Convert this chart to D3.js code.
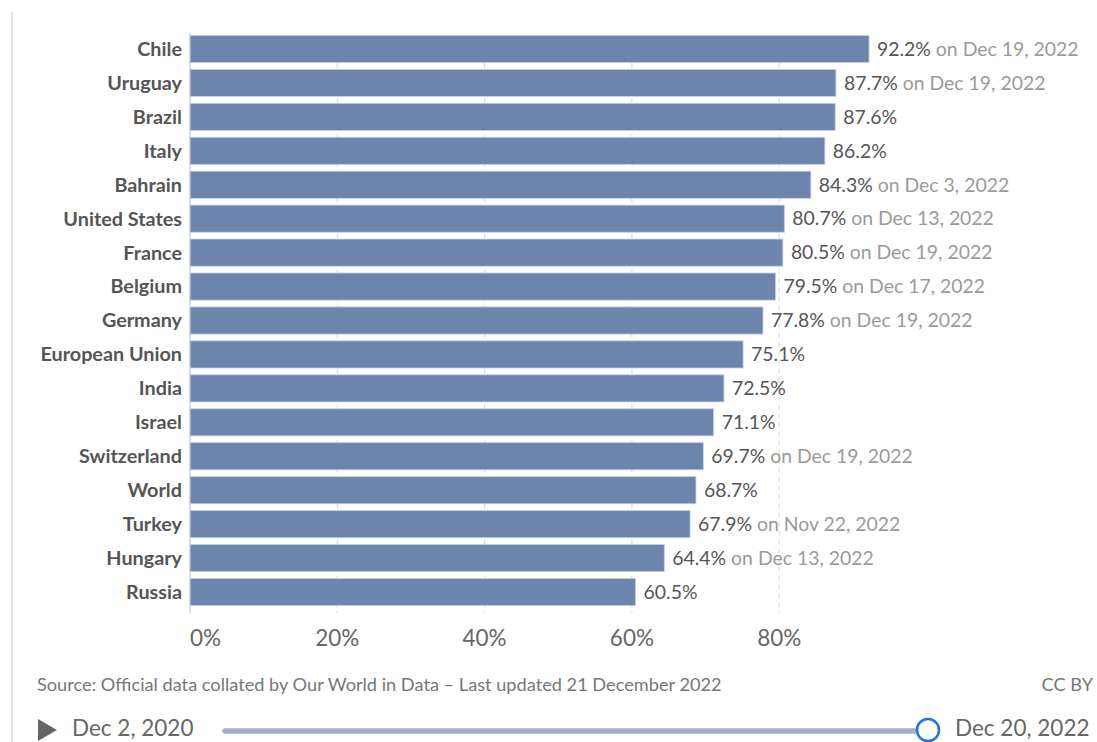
<!DOCTYPE html>
<html>
<head>
<meta charset="utf-8">
<script src="https://cdn.jsdelivr.net/npm/d3@7"></script>
<style>
  html, body { margin: 0; padding: 0; background: #fff; }
  svg { display: block; font-family: Lato, "Noto Sans", sans-serif; }
</style>
</head>
<body>
<svg id="chart" width="1097" height="742"></svg>
<script>
// Share of people who received at least one dose of a COVID-19 vaccine
const countries = ["Chile", "Uruguay", "Brazil", "Italy", "Bahrain", "United States", "France",
  "Belgium", "Germany", "European Union", "India", "Israel", "Switzerland", "World",
  "Turkey", "Hungary", "Russia"];
const shares = [92.2, 87.7, 87.6, 86.2, 84.3, 80.7, 80.5, 79.5, 77.8, 75.1, 72.5, 71.1, 69.7,
  68.7, 67.9, 64.4, 60.5];
const dates = ["Dec 19, 2022", "Dec 19, 2022", "", "", "Dec 3, 2022", "Dec 13, 2022",
  "Dec 19, 2022", "Dec 17, 2022", "Dec 19, 2022", "", "", "", "Dec 19, 2022", "",
  "Nov 22, 2022", "Dec 13, 2022", ""];
const xTicks = [0, 20, 40, 60, 80];
const sourceNote = "Source: Official data collated by Our World in Data \u2013 Last updated 21 December 2022";
const license = "CC BY";
const timeRange = ["Dec 2, 2020", "Dec 20, 2022"];

const svg = d3.select("#chart");

const left = 190, right = 190 + 100 * 7.365;
const x = d3.scaleLinear().domain([0, 100]).range([left, right]);
const y = d3.scaleBand().domain(countries).range([32, 609]).paddingInner(0.2).paddingOuter(0.1);

// frame line on the left
svg.append("line").attr("x1", 12).attr("x2", 12).attr("y1", 12).attr("y2", 742)
  .attr("stroke", "#e6e6e6").attr("stroke-width", 2);

// vertical dashed gridlines
const gridTop = y(countries[0]), gridBottom = 613;
svg.append("g").selectAll("line").data(xTicks.filter(d => d > 0)).join("line")
  .attr("x1", d => x(d)).attr("x2", d => x(d))
  .attr("y1", gridTop).attr("y2", gridBottom)
  .attr("stroke", "#dcdcdc").attr("stroke-width", 1.2).attr("stroke-dasharray", "5,4");

// bars
svg.append("g").selectAll("rect").data(countries).join("rect")
  .attr("x", x(0))
  .attr("y", d => y(d))
  .attr("width", (d, i) => x(shares[i]) - x(0))
  .attr("height", y.bandwidth())
  .attr("fill", "#6780aa").attr("fill-opacity", 0.96)
  .attr("stroke", "#c9d3e4").attr("stroke-width", 0.8);

// axis baseline tick at zero
svg.append("line").attr("x1", x(0)).attr("x2", x(0))
  .attr("y1", gridTop - 2).attr("y2", gridBottom)
  .attr("stroke", "#bbb").attr("stroke-width", 1);

// country labels
svg.append("g").selectAll("text").data(countries).join("text")
  .attr("x", left - 8)
  .attr("y", d => y(d) + y.bandwidth() / 2)
  .attr("dy", "0.35em")
  .attr("text-anchor", "end")
  .attr("font-size", 19.8).attr("font-weight", 700).attr("fill", "#555")
  .text(d => d);

// value labels with optional date
const vl = svg.append("g").selectAll("text").data(countries).join("text")
  .attr("x", (d, i) => x(shares[i]) + 8)
  .attr("y", d => y(d) + y.bandwidth() / 2)
  .attr("dy", "0.35em")
  .attr("font-size", 19.4);
vl.append("tspan").attr("fill", "#555").text((d, i) => shares[i].toFixed(1) + "%");
vl.append("tspan").attr("fill", "#9a9a9a").text((d, i) => dates[i] ? " on " + dates[i] : "");

// x axis tick labels
svg.append("g").selectAll("text").data(xTicks).join("text")
  .attr("x", d => x(d))
  .attr("y", 638).attr("dy", "0.35em")
  .attr("text-anchor", d => d === 0 ? "start" : "middle")
  .attr("font-size", 22.5).attr("fill", "#666")
  .text(d => d + "%");

// footer
svg.append("text").attr("x", 37).attr("y", 685).attr("dy", "0.35em")
  .attr("font-size", 18.2).attr("fill", "#777").text(sourceNote);
svg.append("text").attr("x", 1093).attr("y", 685).attr("dy", "0.35em")
  .attr("text-anchor", "end").attr("font-size", 18.2).attr("fill", "#777").text(license);

// timeline control
svg.append("path").attr("d", "M38,719 L57,730 L38,741 Z").attr("fill", "#666");
svg.append("text").attr("x", 72).attr("y", 728.5).attr("dy", "0.35em")
  .attr("font-size", 22.5).attr("fill", "#666").text(timeRange[0]);
svg.append("line").attr("x1", 225).attr("x2", 918).attr("y1", 731).attr("y2", 731)
  .attr("stroke", "#a7b0bf").attr("stroke-width", 5.5).attr("stroke-linecap", "round");
svg.append("circle").attr("cx", 928).attr("cy", 730).attr("r", 11)
  .attr("fill", "#fff").attr("stroke", "#1a73e8").attr("stroke-width", 2.5);
svg.append("text").attr("x", 955).attr("y", 728.5).attr("dy", "0.35em")
  .attr("font-size", 22.5).attr("fill", "#666").text(timeRange[1]);
</script>
</body>
</html>
